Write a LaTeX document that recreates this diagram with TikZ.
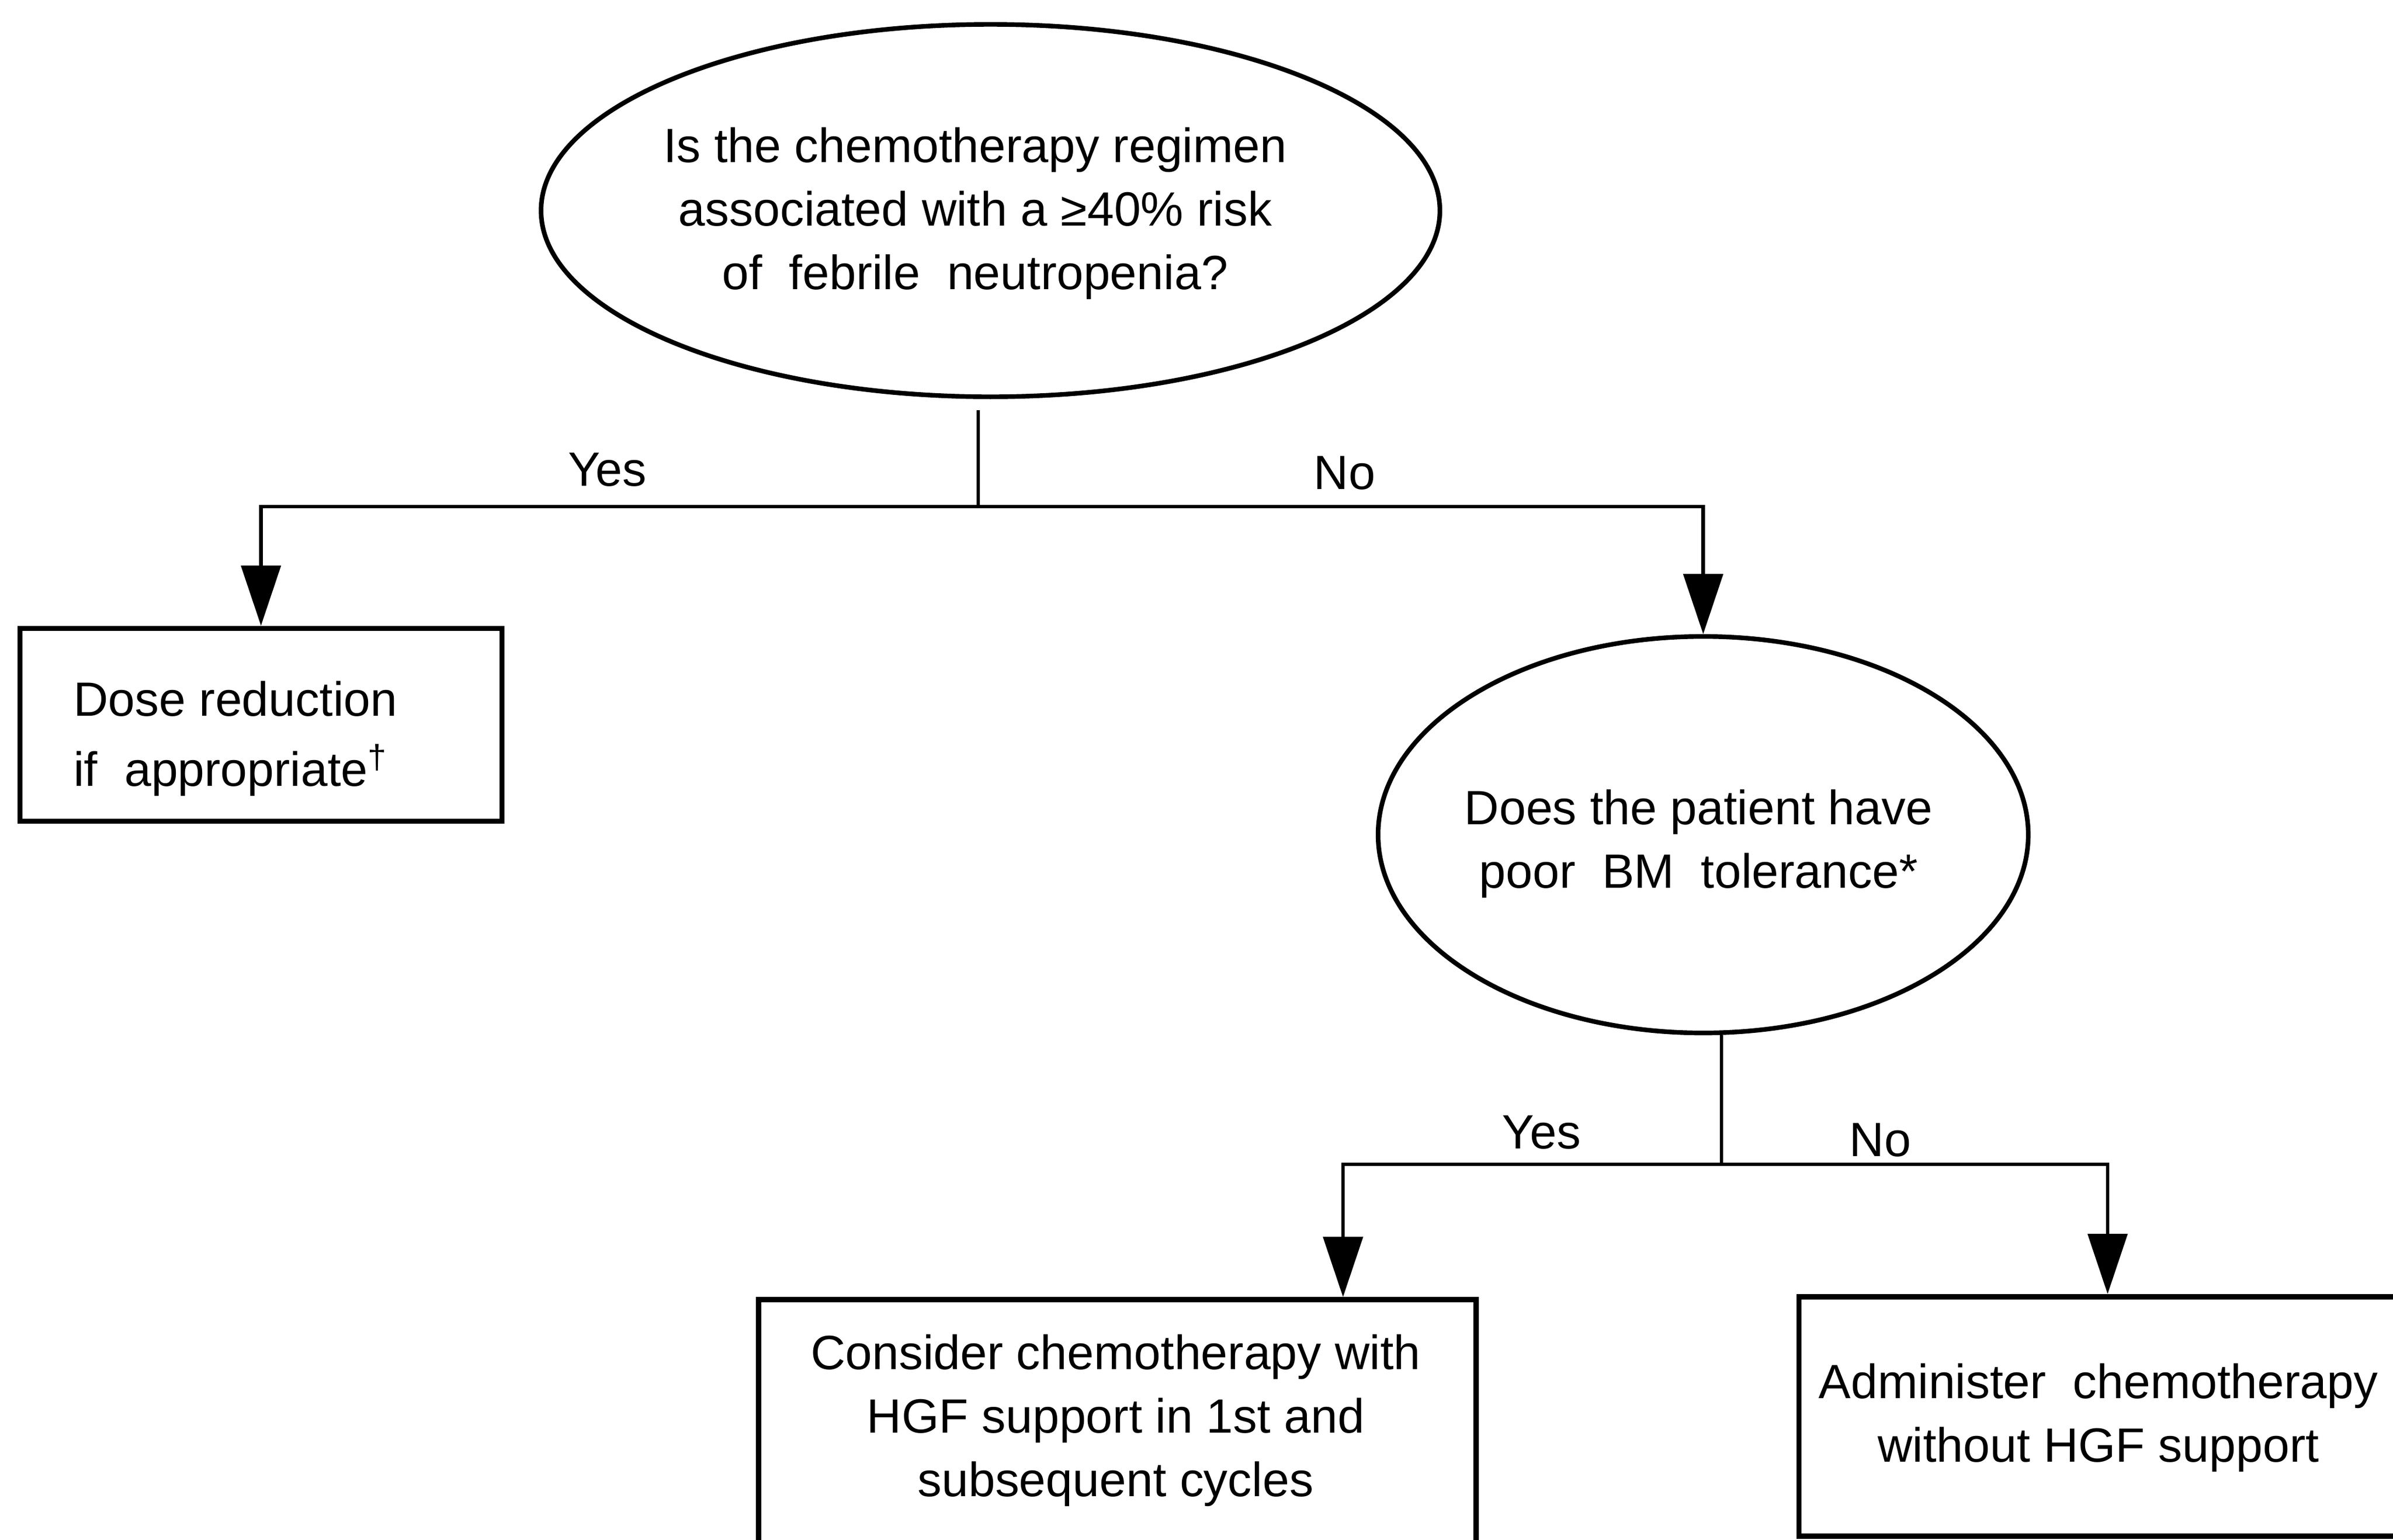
\documentclass[tikz,border=0pt]{standalone}
\usepackage{fontspec}
\setmainfont{Liberation Sans}
\usetikzlibrary{arrows.meta,shapes.geometric,calc}
\tikzset{
  txt/.style={font=\fontsize{25}{33}\selectfont, inner sep=0pt, align=center},
  question/.style={ellipse, draw, line width=2.4pt, inner sep=0pt},
  boxnode/.style={rectangle, draw, line width=2.8pt, inner sep=0pt, txt},
  conn/.style={line width=1.8pt},
  arr/.style={conn, -{Triangle[length=1.1cm,width=0.72cm]}},
  lbl/.style={txt}
}
\begin{document}
\begin{tikzpicture}[x=0.027864cm, y=-0.027859cm]
\useasboundingbox (0,0) rectangle (1568,1009);
\fill[white] (0,0) rectangle (1568,1009);
\clip (0,0) rectangle (1568,1009);

% first question
\node[question, minimum width=16.41cm, minimum height=6.80cm] (q1) at (649,138) {};
\node[txt] (q1t) at (639,140)
  {Is the\ chemotherapy\ regimen\\associated\ with\ a\ ≥40\%\ risk\\of\ \ febrile\ \ neutropenia?};

% junction 1
\coordinate (j1) at (641,332);
\draw[conn, shorten <=0.2cm] (j1 |- q1.south) -- (j1);

% dose reduction box
\node[boxnode, minimum width=8.80cm, minimum height=3.52cm] (b1) at (171,475) {};
\node[txt, font=\fontsize{25}{36.5}\selectfont, align=left, anchor=west] (b1t) at (48,484)
  {Dose reduction\\if\ \ appropriate\textsuperscript{†}};

% second question
\node[question, minimum width=11.87cm, minimum height=7.24cm] (q2) at (1116,547) {};
\node[txt] (q2t) at (1113,553)
  {Does the patient have\\poor\ \ BM\ \ tolerance*};

\draw[arr] (j1) -| (b1.north);
\draw[arr] (j1) -| (q2.north);
\node[lbl] (y1) at (398,308) {Yes};
\node[lbl] (n1) at (881,310) {No};

% junction 2
\coordinate (j2) at (1128,763);
\draw[conn] (j2 |- q2.south) -- (j2);

% bottom boxes
\node[boxnode, minimum width=13.10cm, minimum height=5.30cm, anchor=north] (b3) at (732,850) {};
\node[txt] (t3) at (731,931) {Consider\ chemotherapy\ with\\HGF support in 1st and\\subsequent cycles};
\node[boxnode, minimum width=11.30cm, minimum height=4.37cm, anchor=north west] (b4) at (1177,848) {};
\node[txt] (t4) at (1375,929) {Administer\ \ chemotherapy\\without HGF support};

\coordinate (k3) at (880,763);
\coordinate (k4) at (1381,763);
\draw[arr] (j2) -- (k3) -- (k3 |- b3.north);
\draw[arr] (j2) -- (k4) -- (k4 |- b4.north);
\node[lbl] (y2) at (1010,742) {Yes};
\node[lbl] (n2) at (1232,747) {No};
\end{tikzpicture}
\end{document}
